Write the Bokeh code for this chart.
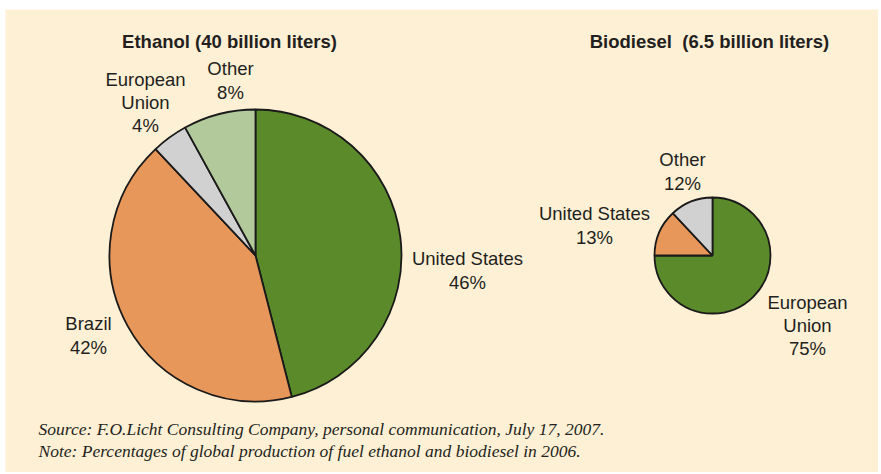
import numpy as np
from bokeh.plotting import figure
from bokeh.models import ColumnDataSource, Range1d
from bokeh.core.properties import value
from bokeh.embed import file_html
from bokeh.resources import INLINE

# ---- data ----
eth_regions = ["United States", "Brazil", "European\nUnion", "Other"]
eth_shares = [46, 42, 4, 8]
bio_regions = ["European\nUnion", "United States", "Other"]
bio_shares = [75, 13, 12]
eth_title = "Ethanol (40 billion liters)"
bio_title = "Biodiesel \u00a0(6.5 billion liters)"
notes = ["Source: F.O.Licht Consulting Company, personal communication, July 17, 2007.",
         "Note: Percentages of global production of fuel ethanol and biodiesel in 2006."]

# ---- styles / layout ----
W, H = 878, 472
LEFT, TOP = 5, 9
BG = "#fef0d5"
GREEN = "#5b8a2a"
ORANGE = "#e8975a"
LGREEN = "#b2c99b"
GRAY = "#d1d1d1"
eth_colors = [GREEN, ORANGE, GRAY, LGREEN]
bio_colors = [GREEN, ORANGE, GRAY]

def px(x, y):
    return x, -y

p = figure(width=W, height=H, output_backend="svg", toolbar_location=None,
           x_range=Range1d(LEFT, W), y_range=Range1d(-H, -TOP),
           min_border_left=LEFT, min_border_top=TOP, min_border_right=0, min_border_bottom=0)
p.axis.visible = False
p.grid.visible = False
p.outline_line_color = None
p.background_fill_color = BG
p.border_fill_color = "white"

def pie(shares, colors, center, radius):
    frac = np.array(shares, dtype=float) / sum(shares)
    cum = np.concatenate([[0], np.cumsum(frac)])
    start = np.pi / 2 - cum[:-1] * 2 * np.pi
    end = np.pi / 2 - cum[1:] * 2 * np.pi
    cx, cy = px(*center)
    src = ColumnDataSource(dict(x=[cx] * len(shares), y=[cy] * len(shares),
                                start=start, end=end, color=colors))
    p.wedge(x="x", y="y", radius=radius, radius_units="screen",
            start_angle="start", end_angle="end", direction="clock",
            fill_color="color", line_color="#1a1a1a", line_width=1.8, source=src)

pie(eth_shares, eth_colors, (255, 255), 146)
pie(bio_shares, bio_colors, (712, 255), 58)

LABEL_FONT = value("Liberation Sans")
TXT = "#231f20"

def labels(names, shares, positions):
    xs, ys, txt = [], [], []
    for n, s, pos in zip(names, shares, positions):
        x, y = px(*pos)
        xs.append(x); ys.append(y); txt.append(f"{n}\n{s}%")
    p.text(x=xs, y=ys, text=txt, text_font=LABEL_FONT, text_font_size="18.5px",
           text_color=TXT, text_align="center", text_baseline="middle",
           text_line_height=1.1)

# label anchor centers (layout)
labels(eth_regions, eth_shares, [(467, 270), (88, 335), (145, 102), (230, 80)])
labels(bio_regions, bio_shares, [(807, 325), (594, 225), (682, 171)])

tx, ty = px(229, 41)
p.text(x=[tx], y=[ty], text=[eth_title], text_font=LABEL_FONT, text_font_size="18.5px",
       text_font_style="bold", text_color=TXT, text_align="center", text_baseline="middle")
tx, ty = px(709, 41)
p.text(x=[tx], y=[ty], text=[bio_title], text_font=LABEL_FONT, text_font_size="18.5px",
       text_font_style="bold", text_color=TXT, text_align="center", text_baseline="middle")

nx, ny1 = px(38, 428)
_, ny2 = px(38, 450)
p.text(x=[nx, nx], y=[ny1, ny2], text=notes, text_font=value("Liberation Serif"),
       text_font_size="17.5px", text_font_style="italic", text_color=TXT,
       text_align="left", text_baseline="middle")

open("out.html", "w").write(file_html(p, INLINE))
